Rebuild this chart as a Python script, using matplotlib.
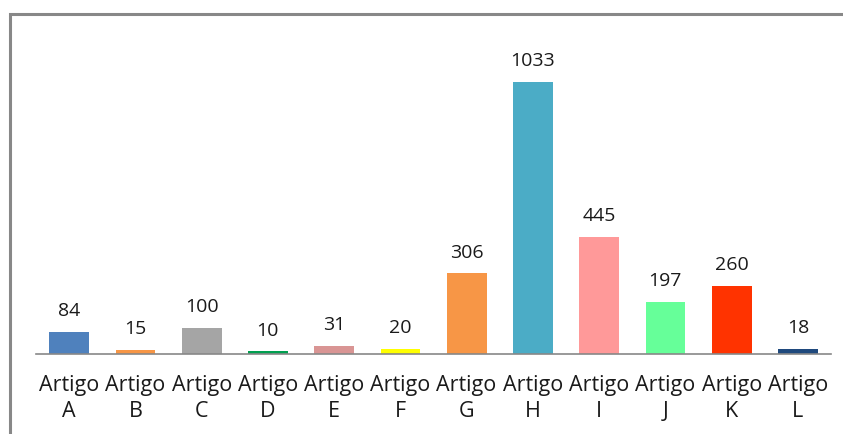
import matplotlib
matplotlib.use('Agg')
import matplotlib.pyplot as plt
from matplotlib.patches import Rectangle

letters = ['A', 'B', 'C', 'D', 'E', 'F', 'G', 'H', 'I', 'J', 'K', 'L']
values = [84, 15, 100, 10, 31, 20, 306, 1033, 445, 197, 260, 18]
colors = ['#4F81BD', '#F79646', '#A5A5A5', '#00A050', '#D99594', '#FFFF00',
          '#F79646', '#4BACC6', '#FF9999', '#66FF99', '#FF3300', '#1F497D']
labels = ['Artigo\n' + l for l in letters]

plt.rcParams['font.family'] = ['Open Sans', 'DejaVu Sans']

fig = plt.figure(figsize=(8.43, 4.34), dpi=100)
W, H = 843, 434
ax = fig.add_axes([36 / W, (H - 354) / H, (831 - 36) / W, 316 / H])

x = range(len(values))
ax.bar(x, values, width=0.6, color=colors)
for i, v in enumerate(values):
    ax.text(i, v + 45, str(v), ha='center', va='bottom', fontsize=14, color='#1a1a1a')

ax.set_xlim(-0.5, len(values) - 0.5)
ax.set_ylim(0, 1200)
ax.set_xticks(list(x))
ax.set_xticklabels(labels, fontsize=15.5, linespacing=1.35, color='#1a1a1a')
ax.tick_params(axis='x', length=0, pad=15)
ax.set_yticks([])
for s in ['top', 'right', 'left']:
    ax.spines[s].set_visible(False)
ax.spines['bottom'].set_color('#888888')
ax.spines['bottom'].set_linewidth(1.2)

# outer chart frame (cut off on the right and bottom)
fig.patches.append(Rectangle((10 / W, -0.1), 1.1, (H - 14) / H + 0.1,
                             transform=fig.transFigure, fill=False,
                             edgecolor='#888888', linewidth=2.2))

plt.savefig('out.png', dpi=100)
